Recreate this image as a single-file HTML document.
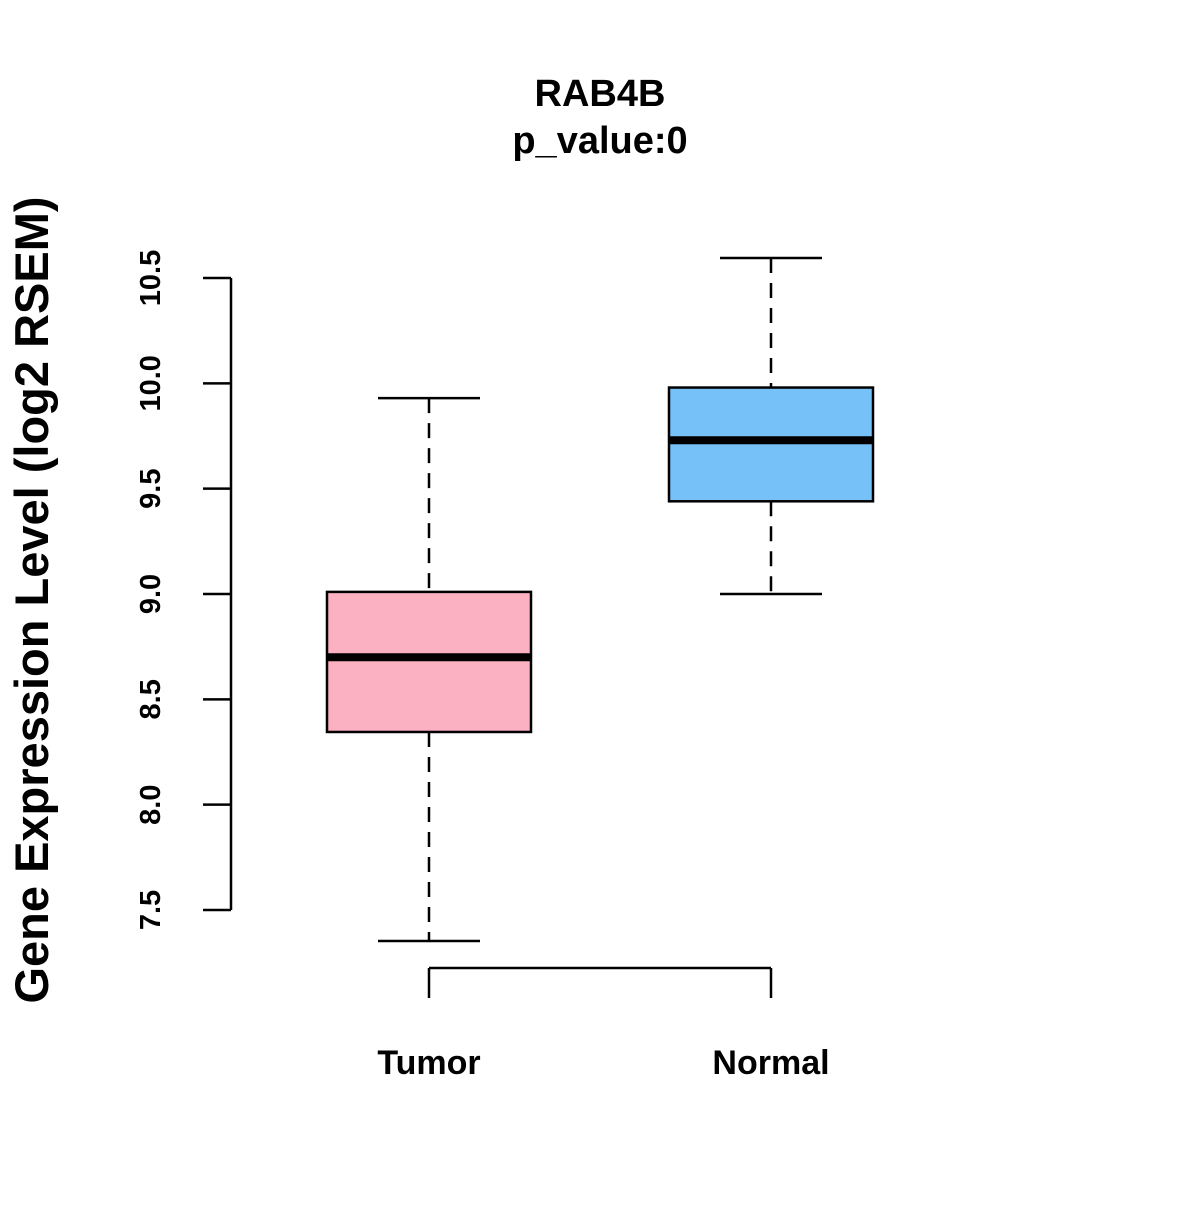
<!DOCTYPE html>
<html><head><meta charset="utf-8"><style>
html,body{margin:0;padding:0;background:#fff}
svg text{font-family:"Liberation Sans",Arial,sans-serif;font-weight:bold;fill:#000}
</style></head><body>
<svg id="chart" width="1200" height="1200" viewBox="0 0 1200 1200">
<text x="600" y="106" text-anchor="middle" font-size="38">RAB4B</text>
<text x="600" y="153" text-anchor="middle" font-size="38">p_value:0</text>
<text transform="translate(48,600) rotate(-90)" text-anchor="middle" font-size="47">Gene Expression Level (log2 RSEM)</text>
<g id="plot"></g>
</svg>
<script>
const categories = ["Tumor", "Normal"];
const whiskerLow = [7.353, 9.0];
const q1 = [8.345, 9.44];
const medians = [8.70, 9.73];
const q3 = [9.01, 9.98];
const whiskerHigh = [9.93, 10.595];
const colors = ["#fcb1c3", "#76c1f8"];
const yTicks = [7.5, 8.0, 8.5, 9.0, 9.5, 10.0, 10.5];
const yTickLabels = ["7.5", "8.0", "8.5", "9.0", "9.5", "10.0", "10.5"];

const NS = "http://www.w3.org/2000/svg";
const g = document.getElementById("plot");
function y(v){ return 910 - (v - 7.5) * (632 / 3); }
function x(i){ return 429 + i * 342; }
function mk(tag, attrs){ const e = document.createElementNS(NS, tag); for (const k in attrs) e.setAttribute(k, attrs[k]); g.appendChild(e); return e; }

let ax = mk("line", {x1:231, x2:231, y1:y(yTicks[0]), y2:y(yTicks[yTicks.length-1]), stroke:"#000", "stroke-width":2.5});


yTicks.forEach((t, i) => {
  const tk = mk("line", {x1:203, x2:231, y1:y(t), y2:y(t), stroke:"#000", "stroke-width":2.5});
  
  
  const tx = mk("text", {transform:`translate(160,${y(t)}) rotate(-90)`, "text-anchor":"middle", "font-size":29});
  tx.textContent = yTickLabels[i];
  
  
});

let xa = mk("line", {x1:x(0), x2:x(categories.length-1), y1:968, y2:968, stroke:"#000", "stroke-width":2.5});



categories.forEach((c, i) => {
  const cx = x(i);
  const xt = mk("line", {x1:cx, x2:cx, y1:968, y2:998, stroke:"#000", "stroke-width":2.5});
  
  
  const lb = mk("text", {x:cx, y:1074, "text-anchor":"middle", "font-size":34});
  lb.textContent = c;
  
  

  const w1 = mk("line", {x1:cx, x2:cx, y1:y(whiskerHigh[i]), y2:y(q3[i]), stroke:"#000", "stroke-width":2.5, "stroke-dasharray":"15,10"});
  
  
  const w2 = mk("line", {x1:cx, x2:cx, y1:y(q1[i]), y2:y(whiskerLow[i]), stroke:"#000", "stroke-width":2.5, "stroke-dasharray":"15,10"});
  
  
  const c1 = mk("line", {x1:cx-51, x2:cx+51, y1:y(whiskerHigh[i]), y2:y(whiskerHigh[i]), stroke:"#000", "stroke-width":2.5});
  
  
  const c2 = mk("line", {x1:cx-51, x2:cx+51, y1:y(whiskerLow[i]), y2:y(whiskerLow[i]), stroke:"#000", "stroke-width":2.5});
  
  
  const bx = mk("rect", {x:cx-102, y:y(q3[i]), width:204, height:y(q1[i])-y(q3[i]), fill:colors[i], stroke:"#000", "stroke-width":2.5});
  
  
  const md = mk("line", {x1:cx-102, x2:cx+102, y1:y(medians[i]), y2:y(medians[i]), stroke:"#000", "stroke-width":8});
  
  
});
</script>
</body></html>
